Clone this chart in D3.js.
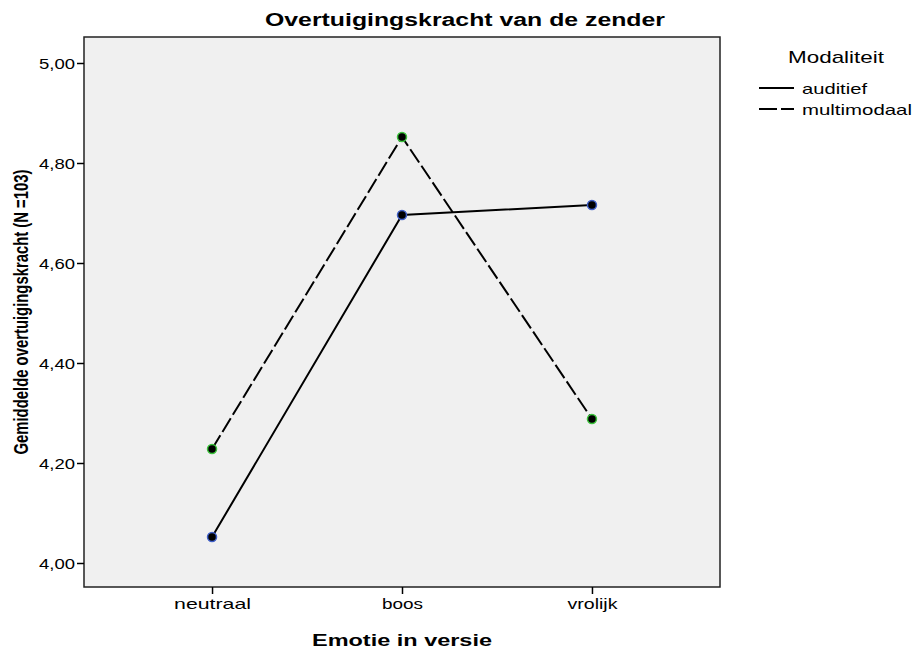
<!DOCTYPE html>
<html>
<head>
<meta charset="utf-8">
<script src="https://cdn.jsdelivr.net/npm/d3@7"></script>
<style>
  html, body { margin: 0; padding: 0; background: #fff; }
  svg { display: block; font-family: "Liberation Sans", Arial, sans-serif; }
</style>
</head>
<body>
<div id="chart"></div>
<script>
const categories = ['neutraal', 'boos', 'vrolijk'];
const seriesNames = ['auditief', 'multimodaal'];
const auditief = [4.052, 4.696, 4.716];
const multimodaal = [4.228, 4.852, 4.288];
const yTicks = [4.0, 4.2, 4.4, 4.6, 4.8, 5.0];

const width = 913, height = 652;
const margin = { top: 37, right: 193, bottom: 65, left: 84 };
const innerW = width - margin.left - margin.right;
const innerH = height - margin.top - margin.bottom;

const svg = d3.select('#chart').append('svg').attr('width', width).attr('height', height);
const chart = svg.append('g').attr('transform', `translate(${margin.left},${margin.top})`);

const x = d3.scalePoint().domain(categories).range([0, innerW]).padding(0.674);
const y = d3.scaleLinear().domain([3.952, 5.052]).range([innerH, 0]);

// stretched text, the reference is wider than normal Arial
const stretch = (sel, w) => sel.attr('textLength', w).attr('lengthAdjust', 'spacingAndGlyphs');

chart.append('rect').attr('width', innerW).attr('height', innerH)
  .attr('fill', '#f0f0f0').attr('stroke', '#222').attr('stroke-width', 1.5);

// y axis
const yAxis = d3.axisLeft(y).tickValues(yTicks).tickSize(7).tickPadding(2)
  .tickFormat(d => d3.format('.2f')(d).replace('.', ','));
const yg = chart.append('g').call(yAxis);
yg.select('.domain').remove();
yg.selectAll('.tick line').attr('stroke', '#000').attr('stroke-width', 1.5);
yg.selectAll('.tick text').attr('fill', '#000').style('font-size', '14px').attr('dy', '0.36em')
  .each(function () { stretch(d3.select(this), 36); });

// x axis
const xAxis = d3.axisBottom(x).tickSize(7).tickPadding(4);
const xg = chart.append('g').attr('transform', `translate(0,${innerH})`).call(xAxis);
xg.select('.domain').remove();
xg.selectAll('.tick line').attr('stroke', '#000').attr('stroke-width', 1.5);
const xLabelW = { neutraal: 77, boos: 41, vrolijk: 50 };
xg.selectAll('.tick text').attr('fill', '#000').style('font-size', '15px')
  .each(function (d) { stretch(d3.select(this), xLabelW[d]); });

// lines
const line = d3.line().x((d, i) => x(categories[i])).y(d => y(d));
const series = [
  { name: seriesNames[0], values: auditief, dash: null, ring: '#3f5fc8' },
  { name: seriesNames[1], values: multimodaal, dash: '16,4', ring: '#3cc33c' },
];
series.forEach(s => {
  chart.append('path').datum(s.values).attr('d', line).attr('fill', 'none')
    .attr('stroke', '#000').attr('stroke-width', 2).attr('stroke-dasharray', s.dash);
});
series.forEach(s => {
  chart.selectAll(null).data(s.values).enter().append('circle')
    .attr('cx', (d, i) => x(categories[i])).attr('cy', d => y(d)).attr('r', 4.5)
    .attr('fill', '#000').attr('stroke', s.ring).attr('stroke-width', 1.5);
});

// titles
stretch(svg.append('text').attr('x', 465).attr('y', 26).attr('text-anchor', 'middle')
  .style('font-size', '18px').style('font-weight', 'bold').text('Overtuigingskracht van de zender'), 400);
stretch(svg.append('text').attr('x', margin.left + innerW / 2).attr('y', 646).attr('text-anchor', 'middle')
  .style('font-size', '17px').style('font-weight', 'bold').text('Emotie in versie'), 180);
stretch(svg.append('text').attr('transform', `translate(28,${margin.top + innerH / 2}) rotate(-90)`)
  .attr('text-anchor', 'middle').style('font-size', '21px').style('font-weight', 'bold')
  .text('Gemiddelde overtuigingskracht (N =103)'), 285);

// legend
const lg = svg.append('g');
stretch(lg.append('text').attr('x', 788).attr('y', 63).style('font-size', '17px').text('Modaliteit'), 96);
series.forEach((s, i) => {
  const ly = 88 + i * 21;
  lg.append('line').attr('x1', 759).attr('x2', 794).attr('y1', ly).attr('y2', ly)
    .attr('stroke', '#000').attr('stroke-width', 2).attr('stroke-dasharray', s.dash ? '18,4' : null);
  stretch(lg.append('text').attr('x', 802).attr('y', ly + 6).style('font-size', '15px').text(s.name),
    i === 0 ? 65 : 110);
});
</script>
</body>
</html>
